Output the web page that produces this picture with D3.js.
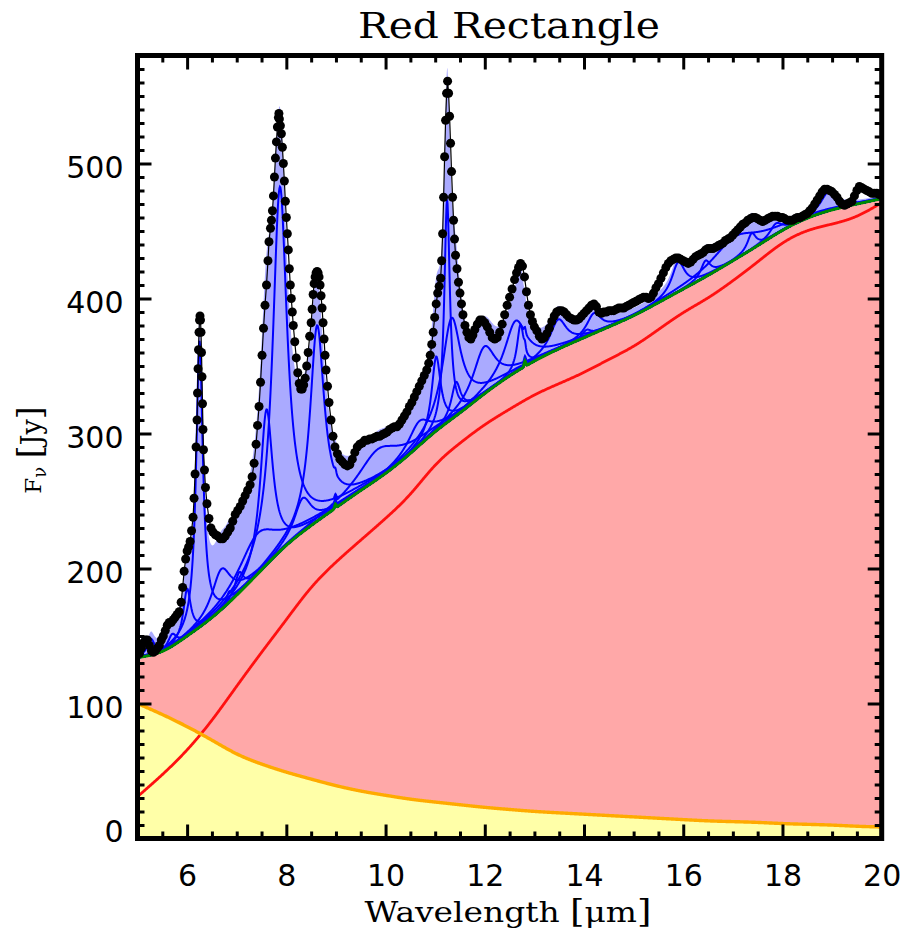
<!DOCTYPE html>
<html>
<head>
<meta charset="utf-8">
<script src="https://cdn.jsdelivr.net/npm/d3@7"></script>
<style>
  body { margin: 0; background: #fff; }
  svg { display: block; }
</style>
</head>
<body>
<svg id="chart" width="903" height="933"></svg>
<script>
// ---- Observed spectrum: wavelength [micron] and flux density [Jy] ----
const obsWave = [
  5.00,5.04,5.08,5.12,5.16,5.20,5.24,5.28,5.32,5.36,5.40,5.44,5.48,5.52,5.56,5.60,5.64,5.68,5.72,5.76,
  5.80,5.84,5.88,5.91,5.94,5.97,6.00,6.03,6.06,6.09,6.12,6.14,6.16,6.18,6.20,6.21,6.22,6.23,6.24,6.25,
  6.26,6.27,6.28,6.29,6.30,6.31,6.32,6.33,6.35,6.37,6.40,6.44,6.48,6.52,6.57,6.62,6.67,6.72,6.77,6.82,
  6.87,6.92,6.97,7.02,7.07,7.12,7.17,7.22,7.27,7.31,7.35,7.39,7.42,7.45,7.48,7.51,7.54,7.57,7.60,7.63,
  7.65,7.68,7.70,7.72,7.74,7.76,7.78,7.80,7.82,7.84,7.85,7.86,7.88,7.90,7.92,7.94,7.96,7.98,8.00,8.02,
  8.04,8.06,8.08,8.10,8.12,8.14,8.17,8.20,8.23,8.26,8.29,8.32,8.35,8.38,8.41,8.44,8.47,8.50,8.52,8.54,
  8.56,8.58,8.60,8.62,8.64,8.66,8.68,8.70,8.72,8.74,8.76,8.78,8.80,8.83,8.86,8.90,8.94,8.98,9.03,9.08,
  9.13,9.18,9.23,9.28,9.33,9.38,9.43,9.48,9.53,9.58,9.63,9.68,9.73,9.78,9.83,9.88,9.93,9.98,10.03,10.08,
  10.13,10.18,10.23,10.28,10.33,10.38,10.43,10.48,10.53,10.58,10.63,10.68,10.73,10.78,10.83,10.87,10.90,10.93,10.96,10.99,
  11.02,11.05,11.08,11.11,11.13,11.15,11.17,11.19,11.21,11.23,11.25,11.27,11.29,11.31,11.33,11.35,11.37,11.39,11.41,11.44,
  11.47,11.50,11.53,11.56,11.60,11.64,11.68,11.72,11.76,11.80,11.85,11.90,11.95,12.00,12.05,12.10,12.15,12.20,12.25,12.30,
  12.35,12.40,12.45,12.50,12.55,12.60,12.64,12.68,12.72,12.76,12.80,12.84,12.88,12.92,12.96,13.00,13.05,13.10,13.15,13.20,
  13.25,13.30,13.35,13.40,13.45,13.50,13.55,13.60,13.65,13.70,13.75,13.80,13.85,13.90,13.95,14.00,14.05,14.10,14.15,14.20,
  14.25,14.30,14.35,14.40,14.45,14.50,14.55,14.60,14.65,14.70,14.75,14.80,14.85,14.90,14.95,15.00,15.05,15.10,15.15,15.20,
  15.25,15.30,15.35,15.40,15.45,15.50,15.55,15.60,15.65,15.70,15.75,15.80,15.85,15.90,15.95,16.00,16.05,16.10,16.15,16.20,
  16.25,16.30,16.35,16.40,16.45,16.50,16.55,16.60,16.65,16.70,16.75,16.80,16.85,16.90,16.95,17.00,17.05,17.10,17.15,17.20,
  17.25,17.30,17.35,17.40,17.45,17.50,17.55,17.60,17.65,17.70,17.75,17.80,17.85,17.90,17.95,18.00,18.05,18.10,18.15,18.20,
  18.25,18.30,18.35,18.40,18.45,18.50,18.55,18.60,18.65,18.70,18.75,18.80,18.85,18.90,18.95,19.00,19.05,19.10,19.15,19.20,
  19.25,19.30,19.35,19.40,19.45,19.50,19.55,19.60,19.65,19.70,19.75,19.80,19.85,19.90,19.95,20.00
];
const obsFlux = [
  138,137,141,145,147,147,143,139,138,139,141,143,147,150,154,158,160,160,162,164,
  166,168,175,186,198,207,213,216,220,228,238,252,270,290,310,330,348,362,375,384,
  387,384,375,360,342,322,303,288,273,260,248,237,230,227,225,224,222,222,224,227,
  230,235,240,243,246,250,254,258,262,268,278,292,306,320,338,358,378,395,410,428,
  442,452,458,465,476,490,504,516,527,534,537,533,528,522,512,500,487,472,460,448,
  436,422,410,400,390,380,368,356,345,337,333,333,336,341,350,360,372,382,392,403,
  411,416,419,420,419,416,410,402,393,382,370,358,347,335,323,310,298,290,285,281,
  279,277,276,277,281,286,290,292,293,295,295,296,296,297,298,298,299,300,301,303,
  304,305,305,307,310,313,316,320,323,327,331,335,339,343,347,352,358,366,375,386,
  396,404,409,415,428,448,475,505,532,552,561,552,535,515,494,475,458,444,432,422,
  412,404,396,388,380,375,371,370,373,377,381,384,384,382,379,375,371,370,371,375,
  381,388,395,401,407,414,419,423,426,424,416,405,395,388,383,379,376,372,370,371,
  374,378,383,387,390,391,391,390,388,386,385,384,384,385,387,389,391,393,395,396,
  394,390,389,390,390,391,391,391,392,393,393,393,394,395,396,397,398,399,400,401,
  401,400,401,404,408,411,415,419,423,426,428,429,430,430,429,428,427,426,427,429,
  431,432,433,434,436,437,437,437,438,439,440,441,443,444,445,447,449,451,453,455,
  456,458,459,460,460,459,458,457,458,459,460,461,461,461,460,460,459,458,458,458,
  459,460,460,461,462,463,465,467,470,473,476,479,481,481,480,479,477,475,472,470,
  469,470,471,472,476,480,483,482,481,480,479,478,478,478,477,476
];

// ---- Continuum components on a 0.5 micron grid [Jy] ----
const gridWave = [5.0,5.5,6.0,6.5,7.0,7.5,8.0,8.5,9.0,9.5,10.0,10.5,11.0,11.5,12.0,12.5,
                  13.0,13.5,14.0,14.5,15.0,15.5,16.0,16.5,17.0,17.5,18.0,18.5,19.0,19.5,20.0];
// stellar photosphere
const starFlux = [100,92,83,73,62,55,49,44,39,35,32,29,27,25,23,21.5,
                  20,19,18,17,16,15,14,13,12.5,12,11,10.5,10,9,8.5];
// warm dust component
const dustFlux = [31,47,65,87,113,138,162,187,205,221,237,254,278,293,307,318,
                  329,337,345,355,364,377,390,400,413,427,442,451,455,460,471];
// total continuum (star + dust)
const contFlux = [134,137,150,163,180,199,218,232,245,258,270,285,302,315,330,343,
                  354,363,371,379,387,397,407,417,428,439,451,460,466,470,474];

// ---- Dust emission features (Drude profiles) ----
const featCenter = [5.27,5.70,6.00,6.25,6.69,6.85,7.05,7.42,7.60,7.87,8.33,8.62,9.85,10.68,11.02,
                    11.24,11.33,11.42,11.99,12.62,12.72,13.48,14.05,14.20,15.90,16.45,17.04,17.38,17.87,18.92];
const featWidth  = [0.034,0.035,0.030,0.026,0.070,0.020,0.030,0.126,0.040,0.045,0.050,0.040,0.100,0.050,0.020,
                    0.012,0.040,0.020,0.045,0.042,0.013,0.030,0.016,0.025,0.020,0.014,0.065,0.012,0.016,0.019];
const featPeak   = [12,9,35,212,30,8,15,30,115,270,25,145,22,18,55,
                    165,75,25,35,38,33,22,5,15,22,12,17,12,8,14];

// ---- Unresolved atomic lines sitting on the continuum ----
const lineCenter = [8.99, 12.81];
const linePeak   = [3, 4];
const lineSigma  = [0.015, 0.015];

// ---- Axis ticks ----
const xTicks = [6,8,10,12,14,16,18,20];
const yTicks = [0,100,200,300,400,500];

// ---------------------------------------------------------------
const plot = { left: 137.5, right: 881.7, top: 55.5, bottom: 838.5 };
const x = d3.scaleLinear().domain([5, 20]).range([plot.left, plot.right]);
const y = d3.scaleLinear().domain([0, 580]).range([plot.bottom, plot.top]);

// smooth continuum curves through the evenly spaced grid (B-spline)
const gridPos = d3.scaleLinear().domain(d3.extent(gridWave)).range([0, 1]).clamp(true);
const contSpline = d3.interpolateBasis(contFlux);
const starSpline = d3.interpolateBasis(starFlux);
const dustSpline = d3.interpolateBasis(dustFlux);
const contAt = l => contSpline(gridPos(l));
const starAt = l => starSpline(gridPos(l));
const dustAt = l => dustSpline(gridPos(l));

function drude(l, i) {
  const c = featCenter[i], g = featWidth[i];
  const u = l / c - c / l;
  return featPeak[i] * g * g / (u * u + g * g);
}
function atomicLines(l) {
  let s = 0;
  lineCenter.forEach((c, i) => {
    const d = (l - c) / lineSigma[i];
    s += linePeak[i] * Math.exp(-0.5 * d * d);
  });
  return s;
}
const baseAt = l => contAt(l) + atomicLines(l);
const modelAt = l => baseAt(l) + d3.sum(featCenter, (c, i) => drude(l, i));

const fine = d3.range(1501).map(i => 5 + i * 0.01);

const svg = d3.select('#chart');

svg.append('defs').append('clipPath').attr('id', 'plotClip')
  .append('rect')
  .attr('x', plot.left).attr('y', plot.top)
  .attr('width', plot.right - plot.left).attr('height', plot.bottom - plot.top);

const g = svg.append('g').attr('clip-path', 'url(#plotClip)');

// total continuum area (pink), stellar area (yellow) on top of it
g.append('path').datum(fine)
  .attr('d', d3.area().x(d => x(d)).y0(y(0)).y1(d => y(baseAt(d))))
  .attr('fill', '#ffa8a8');
g.append('path').datum(fine)
  .attr('d', d3.area().x(d => x(d)).y0(y(0)).y1(d => y(starAt(d))))
  .attr('fill', '#ffffa8');

// features on top of continuum (lavender)
g.append('path').datum(fine)
  .attr('d', d3.area().x(d => x(d)).y0(d => y(baseAt(d))).y1(d => y(modelAt(d))))
  .attr('fill', '#aaaaff');

// individual feature profiles
featCenter.forEach((c, i) => {
  g.append('path').datum(fine)
    .attr('d', d3.line().x(d => x(d)).y(d => y(baseAt(d) + drude(d, i))))
    .attr('fill', 'none').attr('stroke', '#0000ff').attr('stroke-width', 2);
});

// continuum line
g.append('path').datum(fine)
  .attr('d', d3.line().x(d => x(d)).y(d => y(baseAt(d))))
  .attr('fill', 'none').attr('stroke', '#008a00').attr('stroke-width', 3);

// warm dust component
g.append('path').datum(fine)
  .attr('d', d3.line().x(d => x(d)).y(d => y(dustAt(d))))
  .attr('fill', 'none').attr('stroke', '#ff1010').attr('stroke-width', 2.8);

// stellar component
g.append('path').datum(fine)
  .attr('d', d3.line().x(d => x(d)).y(d => y(starAt(d))))
  .attr('fill', 'none').attr('stroke', '#ffaa00').attr('stroke-width', 3.4);

// observed spectrum
const obs = obsWave.map((w, i) => [w, obsFlux[i]]);
g.append('path').datum(obs)
  .attr('d', d3.line().x(d => x(d[0])).y(d => y(d[1])))
  .attr('fill', 'none').attr('stroke', '#000').attr('stroke-width', 1.2);
g.append('g').selectAll('circle').data(obs).join('circle')
  .attr('cx', d => x(d[0])).attr('cy', d => y(d[1])).attr('r', 4.5)
  .attr('fill', '#000');

// ---- axes: inward ticks on all four sides ----
const majorLen = 14, minorLen = 7;
const xMinor = d3.range(5, 20.001, 0.5).filter(v => !xTicks.includes(v));
const yMinor = d3.range(0, 580, 10).filter(v => v % 100 !== 0);
const tickFont = "'DejaVu Sans', sans-serif";

function styleAxis(sel) {
  sel.select('.domain').remove();
  sel.selectAll('.tick line').attr('stroke', '#000').attr('stroke-width', 3);
  sel.selectAll('text').attr('font-family', tickFont).attr('font-size', 30).attr('fill', '#000');
}

// bottom
svg.append('g').attr('transform', `translate(0,${plot.bottom})`)
  .call(d3.axisBottom(x).tickValues(xTicks).tickSize(-majorLen).tickPadding(26))
  .call(styleAxis);
svg.append('g').attr('transform', `translate(0,${plot.bottom})`)
  .call(d3.axisBottom(x).tickValues(xMinor).tickSize(-minorLen).tickFormat(''))
  .call(styleAxis);
// top
svg.append('g').attr('transform', `translate(0,${plot.top})`)
  .call(d3.axisTop(x).tickValues(xTicks).tickSize(-majorLen).tickFormat(''))
  .call(styleAxis);
svg.append('g').attr('transform', `translate(0,${plot.top})`)
  .call(d3.axisTop(x).tickValues(xMinor).tickSize(-minorLen).tickFormat(''))
  .call(styleAxis);
// left
const yAxisG = svg.append('g').attr('transform', `translate(${plot.left},0)`)
  .call(d3.axisLeft(y).tickValues(yTicks).tickSize(-majorLen).tickPadding(14))
  .call(styleAxis);
yAxisG.selectAll('text').attr('dy', d => d === 0 ? '0.11em' : '0.45em');
svg.append('g').attr('transform', `translate(${plot.left},0)`)
  .call(d3.axisLeft(y).tickValues(yMinor).tickSize(-minorLen).tickFormat(''))
  .call(styleAxis);
// right
svg.append('g').attr('transform', `translate(${plot.right},0)`)
  .call(d3.axisRight(y).tickValues(yTicks).tickSize(-majorLen).tickFormat(''))
  .call(styleAxis);
svg.append('g').attr('transform', `translate(${plot.right},0)`)
  .call(d3.axisRight(y).tickValues(yMinor).tickSize(-minorLen).tickFormat(''))
  .call(styleAxis);

// frame
svg.append('rect')
  .attr('x', plot.left).attr('y', plot.top)
  .attr('width', plot.right - plot.left).attr('height', plot.bottom - plot.top)
  .attr('fill', 'none').attr('stroke', '#000').attr('stroke-width', 5);

// ---- titles ----
const serif = "'DejaVu Serif', serif";
svg.append('text')
  .attr('x', 509).attr('y', 38)
  .attr('text-anchor', 'middle')
  .attr('font-family', serif).attr('font-size', 35)
  .attr('textLength', 302).attr('lengthAdjust', 'spacingAndGlyphs')
  .text('Red Rectangle');

const xt = svg.append('text')
  .attr('x', 508).attr('y', 922)
  .attr('text-anchor', 'middle')
  .attr('font-family', serif).attr('font-size', 27.5)
  .attr('textLength', 287).attr('lengthAdjust', 'spacingAndGlyphs');
xt.append('tspan').text('Wavelength ');
xt.append('tspan').attr('font-size', 31).text('[');
xt.append('tspan').text('μm');
xt.append('tspan').attr('font-size', 31).text(']');

const yt = svg.append('text')
  .attr('transform', 'translate(41,450) rotate(-90)')
  .attr('text-anchor', 'middle')
  .attr('font-family', serif).attr('font-size', 27);
yt.append('tspan').attr('font-size', 23).text('F');
yt.append('tspan').attr('font-size', 18).attr('dy', 5).text('ν');
yt.append('tspan').attr('dy', -5).text(' ');
yt.append('tspan').attr('font-size', 33).text('[');
yt.append('tspan').text('Jy');
yt.append('tspan').attr('font-size', 33).text(']');
</script>
</body>
</html>
